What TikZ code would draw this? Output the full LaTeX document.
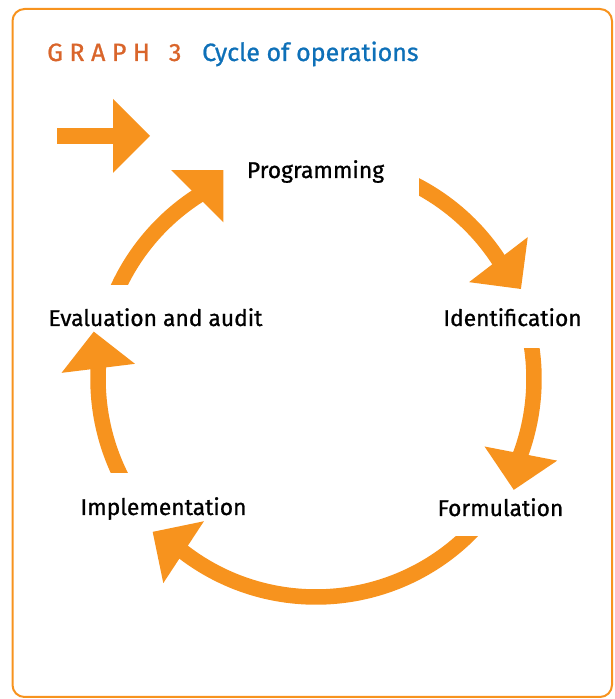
\documentclass[tikz,border=0pt]{standalone}
\usepackage{fontspec}
\setmainfont{Fira Sans}[FakeBold=0.9,AutoFakeBold=0.9]
\usetikzlibrary{calc}
\definecolor{cycorange}{HTML}{F7931E}
\definecolor{graphred}{HTML}{D9652B}
\definecolor{graphblue}{HTML}{0E70B8}

\begin{document}
\begin{tikzpicture}
	[x=1pt,y=1pt,every node/.style={inner sep=0pt,text=black,font=\fontsize{22.8}{26}\selectfont}]
	\tikzstyle{shaft} = [draw=cycorange,line width=15.5pt];
	\tikzstyle{head} = [fill=cycorange];
	\tikzstyle{titlefont} = [font=\fontsize{25}{28}\selectfont];
	
	\useasboundingbox (0,0) rectangle (615,699);
	\draw[cycorange,line width=2pt,rounded corners=12pt] (12.5,2) rectangle (612,690);
	
	\node[titlefont,anchor=base west,text=graphred] (graphno) at (47,638) {\addfontfeature{LetterSpace=26}GRAPH\hspace{19pt}3};
	\node[titlefont,anchor=base west,text=graphblue] (graphtitle) at (202,638) {Cycle of operations};
	
	\node[anchor=base] (prog) at (315.5,521) {Programming};
	\node[anchor=base] (ident) at (512.5,373) {Identification};
	\node[anchor=base] (form) at (500.5,183) {Formulation};
	\node[anchor=base] (impl) at (163.5,184) {Implementation};
	\node[anchor=base] (eval) at (155.5,373) {Evaluation and audit};
	
	\coordinate (c) at (316,320);
	\coordinate (in) at (57,563);
	\coordinate (inhead) at (113,563);
	
	% entry
	\draw[shaft] (in) -- ($(inhead)+(1,0)$);
	\fill[head] ($(inhead)+(0,37)$) -- ($(inhead)+(37,0)$) -- ($(inhead)+(0,-37)$) -- cycle;
	
	% programming -> identification
	\begin{scope}
	\clip (419,0) rectangle (615,699);
	\draw[shaft] ($(c)+(65:218)$) arc[start angle=65,end angle=31.7,radius=218];
	\end{scope}
	\fill[head] ($(c)+(33.2:218)+(37.5:37)$) -- ($(c)+(33.2:218)+(-52.5:37)$) -- ($(c)+(33.2:218)+(-142.5:37)$) -- cycle;
	% identification -> formulation
	\begin{scope}
	\clip (0,0) rectangle (615,350);
	\draw[shaft] ($(c)+(11:218)$) arc[start angle=11,end angle=-21.5,radius=218];
	\end{scope}
	\fill[head] ($(c)+(-20:218)+(-11:37)$) -- ($(c)+(-20:218)+(-101:37)$) -- ($(c)+(-20:218)+(-191:37)$) -- cycle;
	% formulation -> implementation
	\begin{scope}
	\clip (0,0) rectangle (615,162);
	\draw[shaft] ($(c)+(-43:218)$) arc[start angle=-43,end angle=-128.9,radius=218];
	\end{scope}
	\fill[head] ($(c)+(-127.4:218)+(236.7:37)$) -- ($(c)+(-127.4:218)+(146.7:37)$) -- ($(c)+(-127.4:218)+(56.7:37)$) -- cycle;
	% implementation -> evaluation
	\begin{scope}
	\clip (0,226) rectangle (615,699);
	\draw[shaft] ($(c)+(-151:218)$) arc[start angle=-151,end angle=-184.3,radius=218];
	\end{scope}
	\fill[head] ($(c)+(177.2:218)+(187:37)$) -- ($(c)+(177.2:218)+(97:37)$) -- ($(c)+(177.2:218)+(7:37)$) -- cycle;
	% evaluation -> programming
	\begin{scope}
	\clip (0,414) rectangle (615,699);
	\draw[shaft] ($(c)+(158:218)$) arc[start angle=158,end angle=121.5,radius=218];
	\end{scope}
	\fill[head] ($(c)+(123:218)+(135:37)$) -- ($(c)+(123:218)+(45:37)$) -- ($(c)+(123:218)+(-45:37)$) -- cycle;
\end{tikzpicture}
\end{document}
